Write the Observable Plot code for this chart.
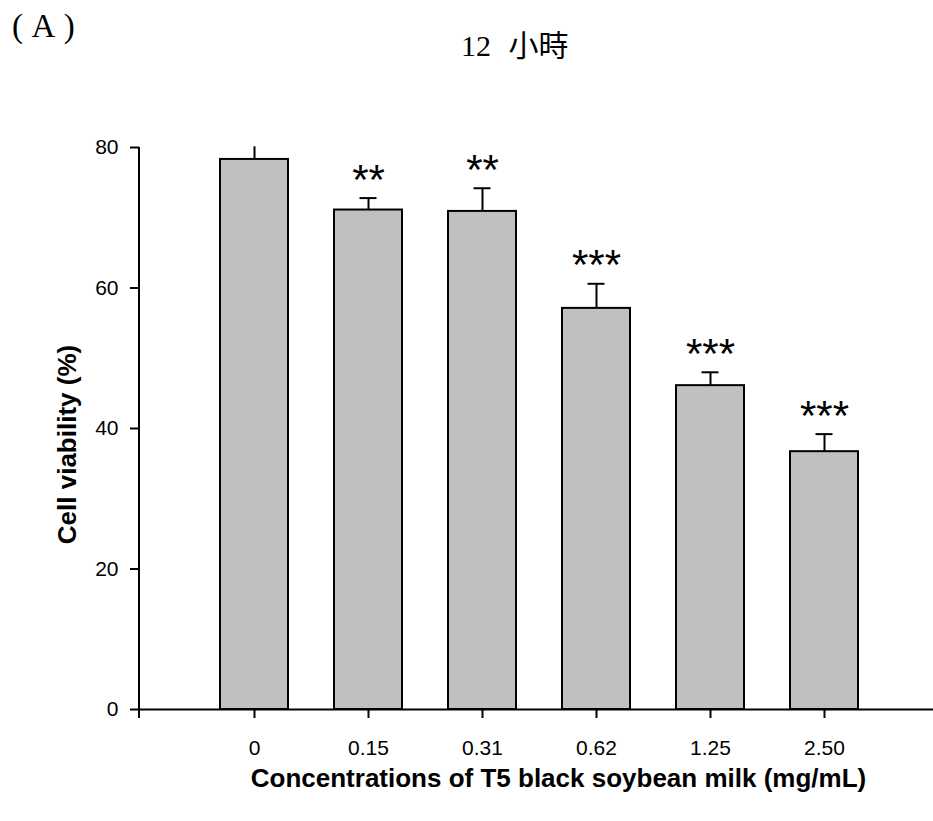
<!DOCTYPE html>
<html>
<head>
<meta charset="utf-8">
<script src="https://cdn.jsdelivr.net/npm/d3@7"></script>
<script src="https://cdn.jsdelivr.net/npm/@observablehq/plot@0.6"></script>
<style>
  html, body { margin: 0; padding: 0; background: #fff; }
  #wrap { position: relative; width: 933px; height: 821px; overflow: hidden; }
  #panel { position: absolute; left: 12px; top: 10px; font-family: "Liberation Serif", serif; font-size: 33px; line-height: 1; color: #000; white-space: pre; word-spacing: 2px; }
  #title { position: absolute; left: 461px; top: 28px; font-family: "Liberation Serif", "Noto Sans CJK TC", serif; font-size: 30px; line-height: 1; color: #000; word-spacing: 10px; white-space: pre; }
  #chart { position: absolute; left: 0; top: 0; }
  g[aria-label="stars"] text { letter-spacing: 2px; }
</style>
</head>
<body>
<div id="wrap">
  <div id="chart"></div>
  <div id="panel">( A )</div>
  <div id="title">12 <span style="font-family:'Noto Sans CJK TC',sans-serif">小時</span></div>
</div>
<script>
const categories = ["0", "0.15", "0.31", "0.62", "1.25", "2.50"];
const viability = [78.3, 71.1, 70.9, 57.1, 46.1, 36.7];
const errors = [1.8, 1.7, 3.3, 3.5, 1.9, 2.5];
const significance = ["", "**", "**", "***", "***", "***"];
const yTicks = [0, 20, 40, 60, 80];
const yLabel = "Cell viability (%)";
const xLabel = "Concentrations of T5 black soybean milk (mg/mL)";

const data = categories.map((c, i) => ({
  cat: c, v: viability[i], e: errors[i], top: viability[i] + errors[i], sig: significance[i]
}));

const yAxisLine = (index, scales, values, dims) => {
  const ns = "http://www.w3.org/2000/svg";
  const l = document.createElementNS(ns, "line");
  const x = dims.marginLeft;
  const y0 = dims.height - dims.marginBottom;
  l.setAttribute("x1", x); l.setAttribute("x2", x);
  l.setAttribute("y1", dims.marginTop); l.setAttribute("y2", y0 + 9);
  l.setAttribute("stroke", "black"); l.setAttribute("stroke-width", 2);
  return l;
};

const chart = Plot.plot({
  width: 933, height: 821,
  marginLeft: 139, marginRight: 0, marginTop: 147, marginBottom: 112,
  style: { fontFamily: "'Liberation Sans', Arial, sans-serif", fontSize: "21px", color: "black", background: "white", overflow: "visible" },
  x: { domain: categories, paddingInner: 0.403, paddingOuter: 0.672, align: 0.522 },
  y: { domain: [0, 80] },
  marks: [
    Plot.barY(data, { x: "cat", y: "v", fill: "#c0c0c0", stroke: "black", strokeWidth: 2 }),
    Plot.ruleX(data, { x: "cat", y1: "v", y2: "top", stroke: "black", strokeWidth: 2 }),
    Plot.tickY(data.filter(d => d.top < 80), { x: "cat", y: "top", inset: 25.5, stroke: "black", strokeWidth: 2 }),
    Plot.text(data, { x: "cat", y: "top", text: "sig", dy: -18, fontSize: 42, fill: "black", ariaLabel: "stars" }),
    Plot.axisY({ ticks: yTicks, tickSize: 9, tickPadding: 12, strokeWidth: 2, label: null, fontSize: 21 }),
    Plot.axisX({ tickSize: 9, tickPadding: 22, strokeWidth: 2, label: null, fontSize: 21 }),
    Plot.ruleY([0], { stroke: "black", strokeWidth: 2 }),
    yAxisLine,
    Plot.text([yLabel], { frameAnchor: "left", textAnchor: "middle", dx: -72, dy: 16, rotate: -90, fontSize: 26, fontWeight: "bold", fill: "black" }),
    Plot.text([xLabel], { frameAnchor: "bottom", textAnchor: "middle", dx: 22, dy: 77, fontSize: 26, fontWeight: "bold", fill: "black" })
  ]
});
document.getElementById("chart").appendChild(chart);
</script>
</body>
</html>
